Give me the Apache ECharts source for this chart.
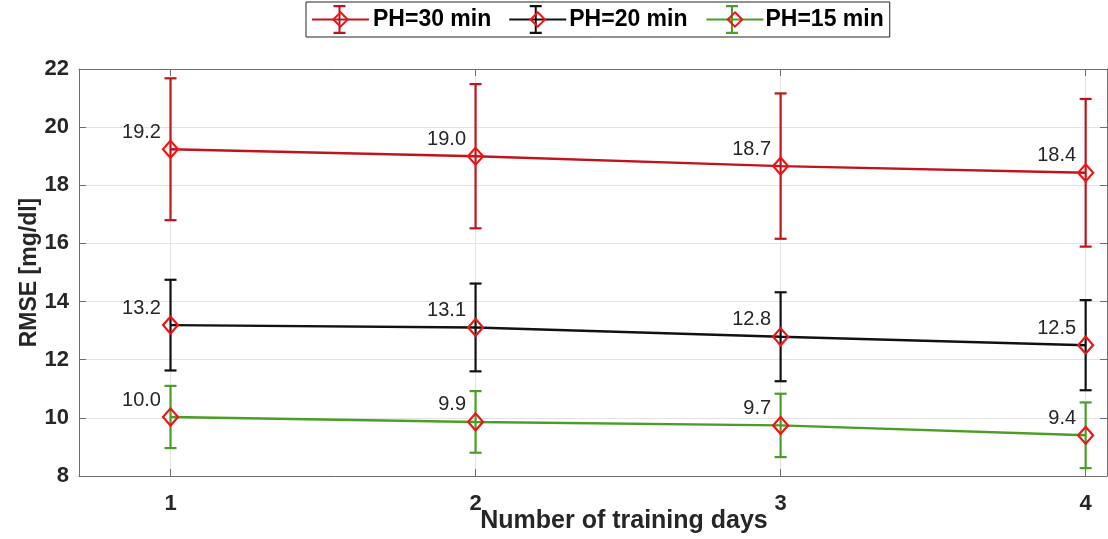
<!DOCTYPE html>
<html>
<head>
<meta charset="utf-8">
<script src="https://cdn.jsdelivr.net/npm/echarts@6/dist/echarts.min.js"></script>
<style>
html,body{margin:0;padding:0;background:#fff;}
#chart{width:1108px;height:539px;}
</style>
</head>
<body>
<div id="chart"></div>
<script>
// ---- data ----
const days = [1, 2, 3, 4];
const seriesNames = ['PH=30 min', 'PH=20 min', 'PH=15 min'];
const rmse30 = [19.24, 19.00, 18.66, 18.43];
const err30  = [2.44, 2.48, 2.50, 2.54];
const rmse20 = [13.19, 13.11, 12.79, 12.50];
const err20  = [1.56, 1.51, 1.53, 1.55];
const rmse15 = [10.03, 9.86, 9.74, 9.40];
const err15  = [1.07, 1.06, 1.09, 1.13];
const yTicks = [8, 10, 12, 14, 16, 18, 20, 22];
const xTicks = [1, 2, 3, 4];

// ---- styles ----
const FONT = '"Liberation Sans", Arial, Helvetica, sans-serif';
const lineColors = ['#c0141c', '#111111', '#4a9e26'];
const markerColor = '#f01414';
const txt = '#262626';
const axisCol = '#6e6e6e';
const gridCol = '#e2e2e2';

const means = [rmse30, rmse20, rmse15];
const errs = [err30, err20, err15];
const EB = ' ';  // suffix for error-bar series names

const ibeamPath = 'path://M0 0h0.05v0.05h-0.05z M56.95 30.95h0.05v0.05h-0.05z ' +
  'M27.5 2h2v27h-2z M22.5 1h12v2.2h-12z M22.5 27.8h12v2.2h-12z';

const series = [];
seriesNames.forEach((name, i) => {
  series.push({
    name: name + EB,
    type: 'custom',
    z: 2,
    itemStyle: { color: lineColors[i] },
    data: days.map((d, k) => [d, means[i][k] - errs[i][k], means[i][k] + errs[i][k]]),
    encode: { x: 0, y: [1, 2] },
    renderItem: function (params, api) {
      const x = api.value(0), lo = api.value(1), hi = api.value(2);
      const pLo = api.coord([x, lo]);
      const pHi = api.coord([x, hi]);
      const c = lineColors[i];
      const hw = 6;
      const st = { stroke: c, lineWidth: 2.2 };
      return {
        type: 'group',
        children: [
          { type: 'line', shape: { x1: pLo[0], y1: pLo[1], x2: pHi[0], y2: pHi[1] }, style: st },
          { type: 'line', shape: { x1: pLo[0] - hw, y1: pLo[1], x2: pLo[0] + hw, y2: pLo[1] }, style: st },
          { type: 'line', shape: { x1: pHi[0] - hw, y1: pHi[1], x2: pHi[0] + hw, y2: pHi[1] }, style: st }
        ]
      };
    }
  });
});
seriesNames.forEach((name, i) => {
  series.push({
    name: name,
    type: 'line',
    z: 3,
    data: days.map((d, k) => [d, means[i][k]]),
    symbol: 'diamond',
    symbolSize: [15, 17],
    showAllSymbol: true,
    lineStyle: { color: lineColors[i], width: 2.4 },
    itemStyle: { color: 'rgba(0,0,0,0)', borderColor: markerColor, borderWidth: 2.2 },
    emphasis: { disabled: true },
    label: {
      show: true,
      position: 'left',
      distance: 1,
      offset: [0, -17],
      color: txt,
      fontFamily: FONT,
      fontSize: 20,
      formatter: p => p.value[1].toFixed(1)
    }
  });
});

const legendText = { fontFamily: FONT, fontSize: 23, fontWeight: 'bold', color: '#000' };

const option = {
  animation: false,
  backgroundColor: '#fff',
  grid: { left: 79, right: 1, top: 69, bottom: 63, containLabel: false, outerBoundsMode: 'none' },
  legend: [
    {
      data: seriesNames.map(n => ({ name: n + EB, icon: ibeamPath })),
      formatter: n => n.trim(),
      left: 306, top: 2,
      orient: 'horizontal',
      itemWidth: 57, itemHeight: 31, itemGap: 16,
      padding: [2, 6, 2, 5],
      borderColor: '#262626', borderWidth: 1,
      selectedMode: false,
      textStyle: legendText,
      z: 4
    },
    {
      data: seriesNames,
      left: 306, top: 8,
      orient: 'horizontal',
      itemWidth: 57, itemHeight: 18, itemGap: 16,
      padding: [0, 6, 0, 5],
      selectedMode: false,
      textStyle: Object.assign({}, legendText, { color: 'rgba(0,0,0,0)' }),
      z: 5
    }
  ],
  xAxis: [
    {
      type: 'value', position: 'bottom', min: 0.7, max: 4.07,
      name: 'Number of training days', nameLocation: 'middle', nameGap: 33, nameMoveOverlap: false,
      nameTextStyle: { fontFamily: FONT, fontSize: 25, fontWeight: 'bold', color: txt, padding: [0, 0, 0, 62] },
      axisLine: { show: true, onZero: false, lineStyle: { color: axisCol, width: 1 } },
      axisTick: { show: true, inside: true, length: 7, customValues: xTicks, lineStyle: { color: axisCol } },
      axisLabel: { customValues: xTicks, margin: 17, fontFamily: FONT, fontSize: 22, fontWeight: 'bold', color: txt },
      splitLine: { show: true, lineStyle: { color: gridCol, width: 1 } }
    },
    {
      type: 'value', position: 'top', min: 0.7, max: 4.07,
      axisLine: { show: true, onZero: false, lineStyle: { color: axisCol, width: 1 } },
      axisTick: { show: true, inside: true, length: 7, customValues: xTicks, lineStyle: { color: axisCol } },
      axisLabel: { show: false },
      splitLine: { show: false }
    }
  ],
  yAxis: [
    {
      type: 'value', position: 'left', min: 8, max: 22, interval: 2,
      name: 'RMSE [mg/dl]', nameLocation: 'middle', nameGap: 38, nameMoveOverlap: false,
      nameTextStyle: { fontFamily: FONT, fontSize: 23, fontWeight: 'bold', color: txt },
      axisLine: { show: true, onZero: false, lineStyle: { color: axisCol, width: 1 } },
      axisTick: { show: true, inside: true, length: 7, lineStyle: { color: axisCol } },
      axisLabel: { margin: 10, fontFamily: FONT, fontSize: 22, fontWeight: 'bold', color: txt,
                   customValues: yTicks },
      splitLine: { show: true, lineStyle: { color: gridCol, width: 1 } }
    },
    {
      type: 'value', position: 'right', min: 8, max: 22, interval: 2,
      axisLine: { show: true, onZero: false, lineStyle: { color: axisCol, width: 1 } },
      axisTick: { show: true, inside: true, length: 7, lineStyle: { color: axisCol } },
      axisLabel: { show: false },
      splitLine: { show: false }
    }
  ],
  series: series
};

const chart = echarts.init(document.getElementById('chart'), null, { renderer: 'canvas' });
chart.setOption(option);
</script>
</body>
</html>
